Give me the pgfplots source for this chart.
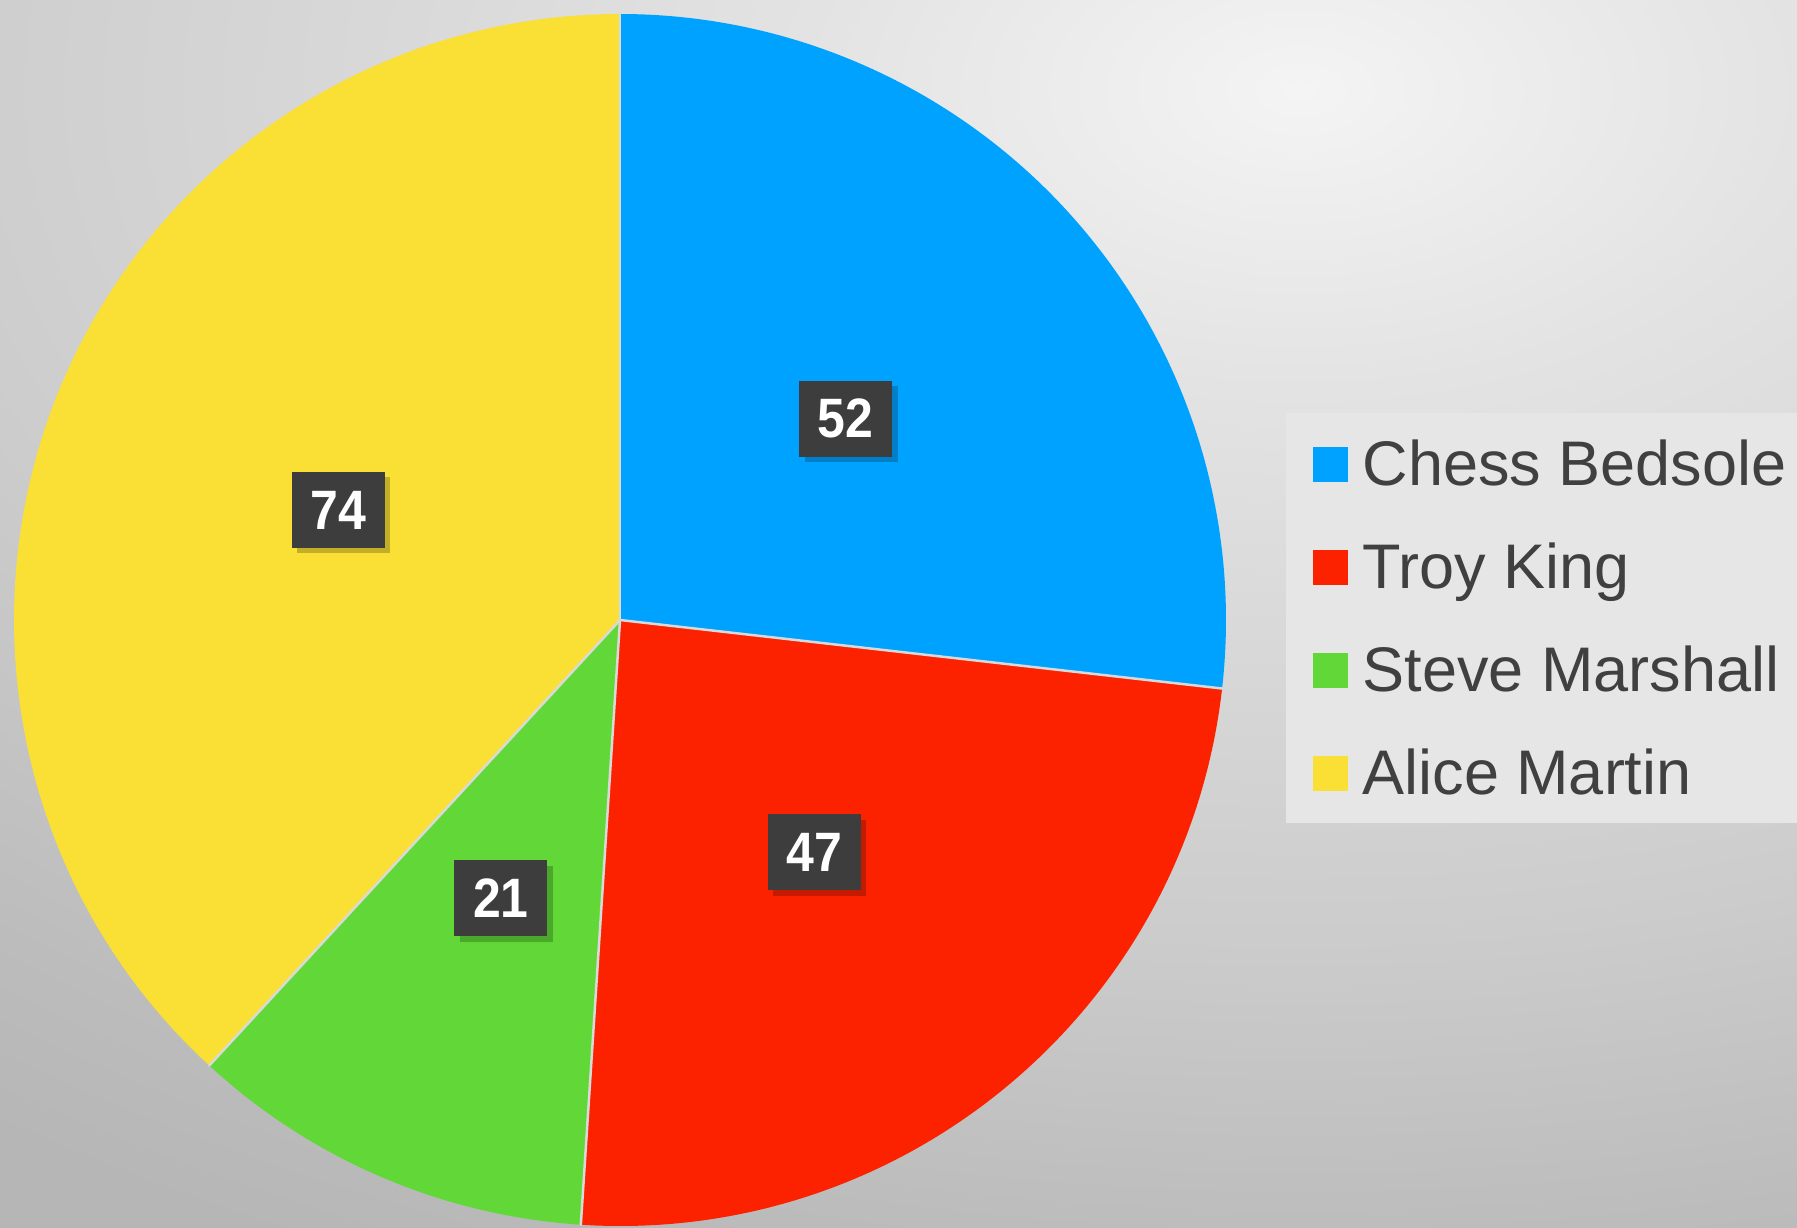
\documentclass[border=0pt]{standalone}
\usepackage{pgfplots}
\pgfplotsset{compat=1.18}
\usepackage{pgfplotstable}
\usepackage{fontspec}
\setmainfont{Liberation Sans}
\newfontfamily\labelfont[FakeStretch=0.9]{Liberation Sans}
\usetikzlibrary{shadows}

\definecolor{slice0}{RGB}{0,162,255}
\definecolor{slice1}{RGB}{252,34,0}
\definecolor{slice2}{RGB}{98,216,56}
\definecolor{slice3}{RGB}{250,224,52}
\definecolor{txt}{HTML}{404040}
\definecolor{lblbox}{HTML}{3D3D3D}
\definecolor{legbg}{HTML}{E6E6E6}
\definecolor{bgedge}{HTML}{B6B6B6}

\pgfdeclareradialshading{bgshade}{\pgfpoint{0bp}{0bp}}{%
 rgb(0bp)=(0.957,0.957,0.957);
 rgb(5.8bp)=(0.89,0.89,0.89);
 rgb(16.3bp)=(0.80,0.80,0.80);
 rgb(22.1bp)=(0.737,0.737,0.737);
 rgb(25bp)=(0.714,0.714,0.714);
 rgb(50bp)=(0.714,0.714,0.714)}

\pgfplotstableread[col sep=comma]{
name,value
Chess Bedsole,52
Troy King,47
Steve Marshall,21
Alice Martin,74
}\piedata

\pgfplotstablegetrowsof{\piedata}
\pgfmathtruncatemacro\lastrow{\pgfplotsretval-1}
\gdef\total{0}
\foreach \i in {0,...,\lastrow}{%
  \pgfplotstablegetelem{\i}{value}\of\piedata
  \pgfmathsetmacro\tmpsum{\total+\pgfplotsretval}%
  \xdef\total{\tmpsum}}
\gdef\cum{0}
\foreach \i in {0,...,\lastrow}{%
  \pgfplotstablegetelem{\i}{value}\of\piedata
  \let\myval\pgfplotsretval
  \expandafter\xdef\csname val\i\endcsname{\myval}%
  \pgfplotstablegetelem{\i}{name}\of\piedata
  \expandafter\xdef\csname nm\i\endcsname{\pgfplotsretval}%
  \pgfmathsetmacro\sa{90-(\cum/\total)*360}%
  \pgfmathsetmacro\tmpc{\cum+\myval}%
  \pgfmathsetmacro\ea{90-(\tmpc/\total)*360}%
  \pgfmathsetmacro\ma{(\sa+\ea)/2}%
  \expandafter\xdef\csname sa\i\endcsname{\sa}%
  \expandafter\xdef\csname ea\i\endcsname{\ea}%
  \expandafter\xdef\csname ma\i\endcsname{\ma}%
  \xdef\cum{\tmpc}}

\tikzset{lbl/.style={fill=lblbox, text=white, font=\labelfont\bfseries\fontsize{22.2}{24}\selectfont,
  minimum width=37.2pt, minimum height=30.4pt, inner sep=0pt,
  drop shadow={shadow xshift=2.2pt, shadow yshift=-2.2pt, opacity=0.22, fill=black}}}

\begin{document}
\begin{tikzpicture}
\useasboundingbox (0,0) rectangle (718.8pt,490.8pt);
\clip (-2pt,-2pt) rectangle (720.8pt,492.8pt);
\fill[bgedge] (-2pt,-2pt) rectangle (720.8pt,492.8pt);
\shade[shading=bgshade] (520pt,454.8pt) ellipse [x radius=868pt, y radius=520pt];
\begin{axis}[at={(0,0)}, anchor=origin, x=0.4pt, y=0.4pt,
  xmin=0, xmax=1797, ymin=0, ymax=1227, hide axis, clip=false,
  legend image code/.code={\fill[#1] (0pt,-5.2pt) rectangle (14pt,8.8pt);},
  legend cell align=left,
  legend style={at={(axis cs:1312,787)}, anchor=north west, draw=none, fill=none,
    inner sep=0pt, font=\fontsize{25.2}{30}\selectfont, text=txt,
    row sep=18.2pt, column sep=6pt,
    nodes={inner sep=0pt, text height=18pt, text depth=5pt}}]
\fill[legbg] (axis cs:1286,404) rectangle (axis cs:1850,814);
\pgfplotsinvokeforeach{0,...,3}{%
  \edef\temp{\noexpand\fill[slice#1]
    (axis cs:620,607) -- ([shift={(\csname sa#1\endcsname:242.4pt)}]axis cs:620,607)
    arc[start angle=\csname sa#1\endcsname, end angle=\csname ea#1\endcsname, radius=242.4pt] -- cycle;}%
  \temp
  \addlegendimage{fill=slice#1, draw=none}
  \addlegendentryexpanded{\csname nm#1\endcsname}
}
\pgfplotsinvokeforeach{0,...,3}{%
  \edef\temp{\noexpand\draw[white!85!black, line width=1pt, line cap=round]
    (axis cs:620,607) -- ([shift={(\csname sa#1\endcsname:242.4pt)}]axis cs:620,607);}%
  \temp
}
\pgfplotsinvokeforeach{0,...,3}{%
  \edef\temp{\noexpand\node[lbl] at ([shift={(\csname ma#1\endcsname:121pt)}]axis cs:620,607) {\csname val#1\endcsname};}%
  \temp
}
\end{axis}
\end{tikzpicture}
\end{document}
